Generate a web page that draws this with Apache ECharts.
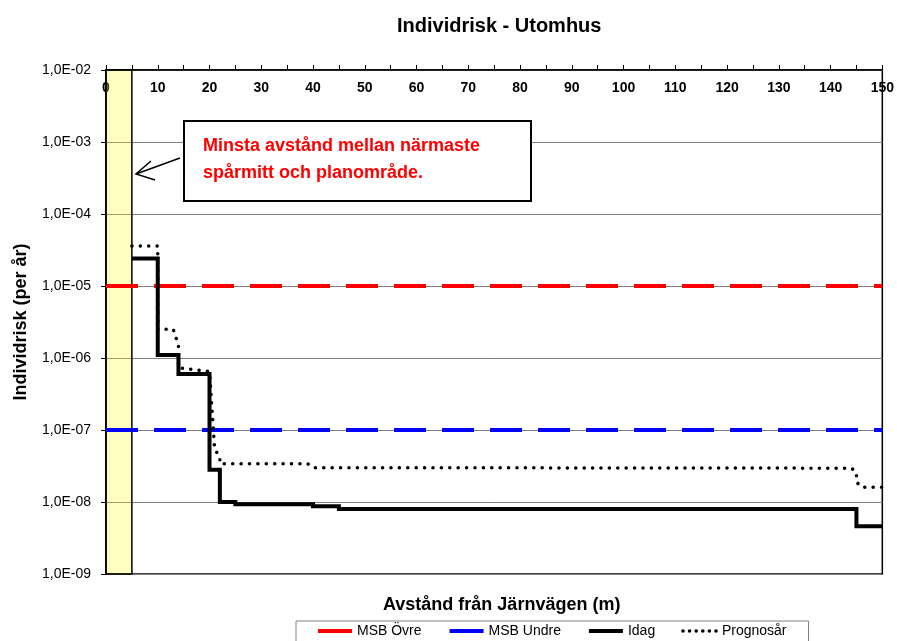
<!DOCTYPE html>
<html lang="sv">
<head>
    <meta charset="UTF-8">
    <title>Individrisk - Utomhus</title>
    <style>
        html, body { margin: 0; padding: 0; background: #fff; }
        #main { width: 897px; height: 641px; }
    </style>
</head>
<body>
<div id="main"></div>

<script src="https://cdn.jsdelivr.net/npm/echarts@6/dist/echarts.min.js"></script>
<script>

    // avstånd (m) -> individrisk per år
    const idagX = [5, 10, 10, 14, 14, 20, 20, 22, 22, 25, 25, 40, 40, 45, 45, 145, 145, 150];
    const idagY = [2.4e-5, 2.4e-5, 1.1e-6, 1.1e-6, 6.0e-7, 6.0e-7, 2.8e-8, 2.8e-8, 1.0e-8, 1.0e-8,
                   9.3e-9, 9.3e-9, 8.7e-9, 8.7e-9, 8.0e-9, 8.0e-9, 4.6e-9, 4.6e-9];
    const prognosX = [5, 10, 10, 13, 14, 14, 20, 21, 22, 22, 39, 40, 144, 145, 145, 146, 150];
    const prognosY = [3.6e-5, 3.6e-5, 2.5e-6, 2.5e-6, 1.5e-6, 7.3e-7, 6.5e-7, 5.3e-8, 4.3e-8, 3.4e-8,
                      3.4e-8, 3.0e-8, 2.95e-8, 2.6e-8, 1.9e-8, 1.6e-8, 1.6e-8];
    const msbOvre = 1e-5;
    const msbUndre = 1e-7;
    const xRange = [0, 150];
    const yRange = [1e-9, 1e-2];
    const bandX = [0, 5];   // minsta avstånd spårmitt - planområde
    const legendNames = ['MSB Övre', 'MSB Undre', 'Idag', 'Prognosår'];

    const pts = (xs, ys) => xs.map((x, i) => [x, ys[i]]);
    const font = '"Liberation Sans", Arial, sans-serif';

    const option = {
        animation: false,
        title: [
            {text: 'Individrisk - Utomhus', left: 392, top: 11,
                textStyle: {fontFamily: font, fontSize: 20, fontWeight: 'bold', color: '#000'}},
            {text: 'Avstånd från Järnvägen (m)', left: 378, top: 591,
                textStyle: {fontFamily: font, fontSize: 18, fontWeight: 'bold', color: '#000'}}
        ],
        grid: {left: 106, right: 12, top: 70, bottom: 67, show: true, borderColor: '#000', borderWidth: 1.5, backgroundColor: '#fff'},
        legend: {
            data: [
                {name: legendNames[0], lineStyle: {type: 'solid', width: 4}},
                {name: legendNames[1], lineStyle: {type: 'solid', width: 4}},
                {name: legendNames[2], lineStyle: {width: 4}},
                {name: legendNames[3], lineStyle: {width: 3.5, type: [0.1, 6.5], cap: 'round'}}
            ],
            left: 296, top: 621,
            padding: [3, 22, 6, 20],
            itemWidth: 34, itemHeight: 14, itemGap: 26,
            // bara linjen i förklaringen, ingen symbol
            itemStyle: {color: 'rgba(0,0,0,0)', borderWidth: 0},
            borderColor: '#808080', borderWidth: 1,
            textStyle: {fontFamily: font, fontSize: 14, color: '#000'}
        },
        xAxis: {
            type: 'value', position: 'top',
            min: xRange[0], max: xRange[1], interval: 10,
            axisLine: {lineStyle: {color: '#000', width: 1.5}},
            axisTick: {show: true, inside: false, length: 5, lineStyle: {color: '#000'}},
            minorTick: {show: true, splitNumber: 2, length: 5, lineStyle: {color: '#000'}},
            axisLabel: {inside: true, margin: 11, fontFamily: font, fontSize: 14, fontWeight: 'bold', color: '#000'},
            splitLine: {show: false}
        },
        yAxis: {
            type: 'log', logBase: 10,
            min: yRange[0], max: yRange[1],
            name: 'Individrisk (per år)', nameLocation: 'middle', nameGap: 76,
            nameTextStyle: {fontFamily: font, fontSize: 18, fontWeight: 'bold', color: '#000'},
            axisLine: {show: true, lineStyle: {color: '#000', width: 1.5}},
            axisTick: {show: true, length: 5, lineStyle: {color: '#000'}},
            axisLabel: {
                margin: 15, fontFamily: font, fontSize: 14, color: '#000',
                formatter: v => {
                    let e = Math.round(Math.log10(v));
                    return '1,0E' + (e < 0 ? '-' : '+') + String(Math.abs(e)).padStart(2, '0');
                }
            },
            splitLine: {show: true, lineStyle: {color: '#808080', width: 1}}
        },
        series: [
            {
                name: 'MSB Övre', type: 'line', symbol: 'none', z: 2,
                data: [[xRange[0], msbOvre], [xRange[1], msbOvre]],
                itemStyle: {color: '#ff0000'},
                lineStyle: {color: '#ff0000', width: 4, type: [32, 16]}
            },
            {
                name: 'MSB Undre', type: 'line', symbol: 'none', z: 2,
                data: [[xRange[0], msbUndre], [xRange[1], msbUndre]],
                itemStyle: {color: '#0000ff'},
                lineStyle: {color: '#0000ff', width: 4, type: [32, 16]}
            },
            {
                name: 'Idag', type: 'line', symbol: 'none', z: 3,
                data: pts(idagX, idagY),
                itemStyle: {color: '#000'},
                lineStyle: {color: '#000', width: 4, join: 'miter'}
            },
            {
                name: 'Prognosår', type: 'line', symbol: 'none', z: 3,
                data: pts(prognosX, prognosY),
                itemStyle: {color: '#000'},
                lineStyle: {color: '#000', width: 3.5, type: [0.1, 8.3], cap: 'round'}
            },
            {
                // gul markering, halvgenomskinlig ovanpå linjerna
                name: 'band', type: 'line', data: [], z: 5, silent: true,
                markArea: {
                    silent: true,
                    itemStyle: {color: 'rgba(255,255,0,0.25)', borderColor: '#000', borderWidth: 1.5},
                    data: [[{xAxis: bandX[0]}, {xAxis: bandX[1]}]]
                }
            }
        ],
        graphic: [
            {
                type: 'polyline', z: 100,
                shape: {points: [[180, 158], [136, 174]]},
                style: {stroke: '#000', lineWidth: 1.5, fill: null}
            },
            {
                type: 'polyline', z: 100,
                shape: {points: [[151, 161], [136, 174], [155, 180]]},
                style: {stroke: '#000', lineWidth: 1.5, fill: null}
            },
            {
                type: 'rect', z: 100, left: 183, top: 120,
                shape: {width: 347, height: 80},
                style: {fill: '#fff', stroke: '#000', lineWidth: 2}
            },
            {
                type: 'text', z: 101, left: 203, top: 133,
                style: {
                    text: 'Minsta avstånd mellan närmaste\nspårmitt och planområde.',
                    fill: '#ff0000', font: 'bold 18px ' + font, lineHeight: 27
                }
            }
        ]
    };

    let myChart = echarts.init(document.getElementById('main'));
    myChart.setOption(option);
</script>
</body>
</html>
